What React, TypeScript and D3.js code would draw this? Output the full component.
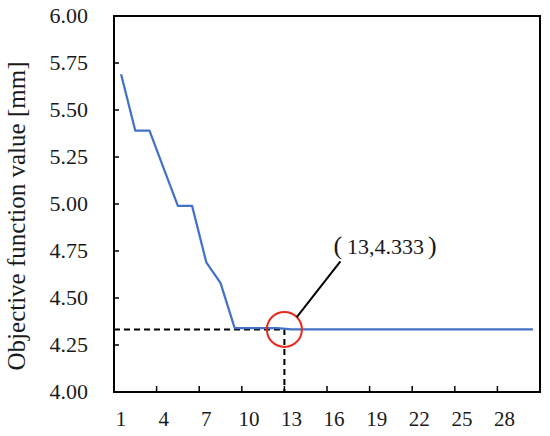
import React from "react";
import * as d3 from "d3";

// iteration numbers on the x axis
const iterations = [
  1, 2, 3, 4, 5, 6, 7, 8, 9, 10, 11, 12, 13, 14, 15,
  16, 17, 18, 19, 20, 21, 22, 23, 24, 25, 26, 27, 28, 29, 30,
];

// objective function value per iteration [mm]
const objective = [
  5.69, 5.39, 5.39, 5.19, 4.99, 4.99, 4.69, 4.58, 4.34, 4.34, 4.34, 4.34,
  4.333, 4.333, 4.333, 4.333, 4.333, 4.333, 4.333, 4.333, 4.333, 4.333,
  4.333, 4.333, 4.333, 4.333, 4.333, 4.333, 4.333, 4.333,
];

const xTickLabels = [1, 4, 7, 10, 13, 16, 19, 22, 25, 28];
const yTicks = [4.0, 4.25, 4.5, 4.75, 5.0, 5.25, 5.5, 5.75, 6.0];

const bestIter = 13;
const bestValue = 4.333;

const W = 550;
const H = 436;
const margin = { top: 16, right: 10, bottom: 44, left: 114 };
const font = "'Liberation Serif', 'Times New Roman', serif";

const App = () => {
  const x = d3
    .scaleBand<number>()
    .domain(iterations)
    .range([margin.left, W - margin.right])
    .padding(0);
  const y = d3
    .scaleLinear()
    .domain([4, 6])
    .range([H - margin.bottom, margin.top]);

  const cx = (d: number) => (x(d) as number) + x.bandwidth() / 2;

  const line = d3
    .line<number>()
    .x((_, i) => cx(iterations[i]))
    .y((d) => y(d));

  const x0 = margin.left;
  const x1 = W - margin.right;
  const y0 = H - margin.bottom;
  const y1 = margin.top;

  // annotation anchor: band edge of the optimum iteration
  const ax = x(bestIter) as number;
  const ay = y(bestValue);
  const r = 17.5;

  return (
    <div style={{ position: "absolute", left: 0, top: 0 }}>
      <svg width={W} height={H} style={{ display: "block", background: "#fff" }}>
        <rect x={0} y={0} width={W} height={H} fill="#fff" />

        {/* y ticks (inside) + labels */}
        {yTicks.map((t) => (
          <g key={t}>
            <line x1={x0} x2={x0 + 5} y1={y(t)} y2={y(t)} stroke="#000" strokeWidth={1.5} />
            <text
              x={x0 - 26}
              y={y(t)}
              dy="0.33em"
              textAnchor="end"
              fontFamily={font}
              fontSize={22}
              fill="#1a1a1a"
            >
              {t.toFixed(2)}
            </text>
          </g>
        ))}

        {/* x ticks (inside) + labels */}
        {xTickLabels.map((t) => (
          <g key={t}>
            {t !== 1 && (
              <line
                x1={x(t) as number}
                x2={x(t) as number}
                y1={y0}
                y2={y0 - 6}
                stroke="#000"
                strokeWidth={1.5}
              />
            )}
            <text
              x={cx(t)}
              y={y0 + 34}
              textAnchor="middle"
              fontFamily={font}
              fontSize={21}
              fill="#1a1a1a"
            >
              {t}
            </text>
          </g>
        ))}

        {/* dashed guides to the optimum */}
        <path
          d={`M${x0},${ay}H${ax}V${y0}`}
          fill="none"
          stroke="#000"
          strokeWidth={2}
          strokeDasharray="6,4"
        />

        {/* series */}
        <path d={line(objective) || ""} fill="none" stroke="#4472C4" strokeWidth={2.25} strokeLinejoin="round" />

        {/* frame */}
        <rect x={x0} y={y1} width={x1 - x0} height={y0 - y1} fill="none" stroke="#000" strokeWidth={2} />

        {/* annotation */}
        <circle cx={ax} cy={ay} r={r} fill="none" stroke="#E8291C" strokeWidth={2} />
        <line
          x1={ax + r * Math.SQRT1_2}
          y1={ay - r * Math.SQRT1_2}
          x2={ax + 56}
          y2={ay - 68}
          stroke="#000"
          strokeWidth={2}
        />
        <text x={ax + 49} y={ay - 75} fontFamily={font} fontSize={22} fill="#1a1a1a">
          <tspan fontSize={26}>(</tspan>
          <tspan dx={5}>
            {bestIter},{bestValue.toFixed(3)}
          </tspan>
          <tspan dx={4} fontSize={26}>)</tspan>
        </text>

        {/* y axis title */}
        <text
          transform={`translate(25,${(y0 + y1) / 2 + 12}) rotate(-90)`}
          textAnchor="middle"
          fontFamily={font}
          fontSize={25}
          fill="#1a1a1a"
        >
          Objective function value [mm]
        </text>
      </svg>
    </div>
  );
};

export default App;
